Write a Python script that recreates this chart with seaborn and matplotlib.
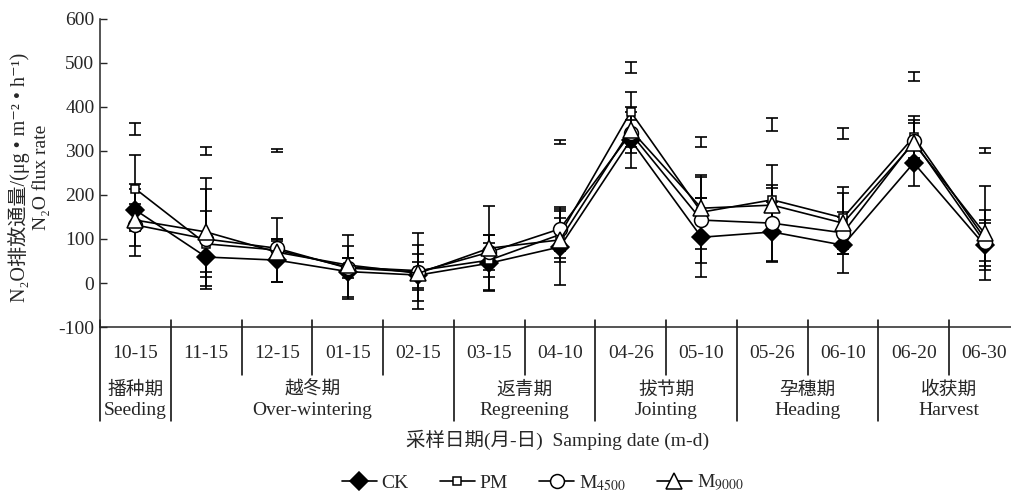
import numpy as np
import pandas as pd
import matplotlib
matplotlib.use('Agg')
import matplotlib.pyplot as plt
import seaborn as sns

# sampling dates and growth stages
dates = ['10-15', '11-15', '12-15', '01-15', '02-15', '03-15', '04-10',
         '04-26', '05-10', '05-26', '06-10', '06-20', '06-30']
stages_cn = ['播种期', '越冬期', '返青期', '拔节期', '孕穗期', '收获期']
stages_en = ['Seeding', 'Over-wintering', 'Regreening', 'Jointing', 'Heading', 'Harvest']
stage_len = [1, 4, 2, 2, 2, 2]

# N2O flux means and error bars
ck = [166, 59, 52, 26, 18, 45, 82, 325, 104, 116, 86, 273, 86]
ck_err = [48, 34, 49, 57, 30, 64, 87, 64, 90, 68, 63, 53, 57]
pm = [214, 89, 75, 36, 28, 52, 110, 389, 161, 189, 148, 332, 102]
pm_err = [78, 75, 72, 73, 86, 38, 54, 45, 84, 79, 70, 48, 63]
m4500 = [132, 100, 79, 34, 25, 70, 123, 340, 143, 136, 114, 322, 93]
m4500_err = [47, 113, 20, 23, 40, 40, 50, 30, 97, 87, 47, 48, 43]
m9000 = [143, 116, 70, 41, 22, 79, 98, 348, 170, 177, 136, 318, 113]
m9000_err = [82, 122, 25, 16, 64, 96, 50, 53, 23, 39, 69, 46, 107]
# detached error bars drawn above the curves in the original
extra = [350, 300, 301, np.nan, np.nan, np.nan, 320, 490, 320, 360, 340, 470, 301]
extra_err = [14, 9, 3, 0, 0, 0, 5, 13, 12, 15, 12, 10, 6]

serif = ['Liberation Serif', 'Noto Sans CJK SC', 'DejaVu Serif']
sns.set_style('ticks')
plt.rcParams['font.family'] = serif
plt.rcParams['mathtext.fontset'] = 'stix'
plt.rcParams['axes.unicode_minus'] = False

pos = np.arange(len(dates))
df = pd.DataFrame({'pos': pos, 'CK': ck, 'PM': pm, 'M4500': m4500, 'M9000': m9000})

fig = plt.figure(figsize=(10.12, 4.93), dpi=100)
ax = fig.add_axes([0.0988, 0.3367, 0.909, 0.6248])

lw = 1.2
for vals, err in [(ck, ck_err), (pm, pm_err), (m4500, m4500_err), (m9000, m9000_err)]:
    ax.errorbar(pos, vals, yerr=err, fmt='none', ecolor='black', elinewidth=lw,
                capsize=4, capthick=lw, zorder=1)
ax.errorbar(pos, extra, yerr=extra_err, fmt='none', ecolor='black', elinewidth=lw,
            capsize=4, capthick=lw, zorder=1)

styles = [
    ('CK', 'CK', 'D', 'black', 9),
    ('PM', 'PM', 's', 'white', 6),
    ('M4500', 'M$_{4500}$', 'o', 'white', 10),
    ('M9000', 'M$_{9000}$', '^', 'white', 11),
]
handles = []
for i, (col, lab, mk, fc, ms) in enumerate(styles):
    sns.lineplot(data=df, x='pos', y=col, ax=ax, color='black', linewidth=lw,
                 marker=mk, markersize=ms, markerfacecolor=fc,
                 markeredgecolor='black', markeredgewidth=1.1, zorder=3 + i)
    handles.append(plt.Line2D([], [], color='black', lw=lw, marker=mk, markersize=ms,
                              markerfacecolor=fc, markeredgecolor='black',
                              markeredgewidth=1.1, label=lab))

ax.set_xlim(-0.5, len(dates) - 0.5)
ax.set_ylim(-100, 600)
ax.set_yticks(range(-100, 601, 100))
ax.tick_params(axis='y', direction='in', length=5, width=1, labelsize=14, pad=4)
ax.set_xticks([])
ax.set_xlabel('')
ax.set_ylabel('')
for s in ['top', 'right']:
    ax.spines[s].set_visible(False)
for s in ['left', 'bottom']:
    ax.spines[s].set_linewidth(1.1)

# table under the axis: date cells and stage cells
tr = ax.get_xaxis_transform()
for i, d in enumerate(dates):
    ax.text(i, -0.085, d, transform=tr, ha='center', va='center', fontsize=14,
            clip_on=False)
bounds = np.cumsum([0] + stage_len)
stage_edges = set(bounds.tolist())
for b in range(len(dates)):
    x = b - 0.5
    low = -0.305 if b in stage_edges else -0.157
    ax.plot([x, x], [0.023, low], transform=tr, color='black', lw=1.1, clip_on=False)
for k in range(len(stage_len)):
    c = (bounds[k] + bounds[k + 1] - 1) / 2
    ax.text(c, -0.205, stages_cn[k], transform=tr, ha='center', va='center',
            fontsize=13.5, clip_on=False)
    ax.text(c, -0.27, stages_en[k], transform=tr, ha='center', va='center',
            fontsize=14, clip_on=False)

fig.text(0.551, 0.108, '采样日期(月-日)  Samping date (m-d)', ha='center', va='center',
         fontsize=14)
fig.text(0.019, 0.64, 'N₂O排放通量/(μg • m⁻² • h⁻¹)', rotation=90,
         ha='center', va='center', fontsize=14.5)
fig.text(0.041, 0.64, 'N₂O flux rate', rotation=90, ha='center', va='center',
         fontsize=14)

fig.legend(handles=handles, loc='center', bbox_to_anchor=(0.536, 0.02), ncol=4,
           frameon=False, fontsize=14, handlelength=1.8, handletextpad=0.25,
           columnspacing=1.6)

fig.savefig('out.png', dpi=100)
